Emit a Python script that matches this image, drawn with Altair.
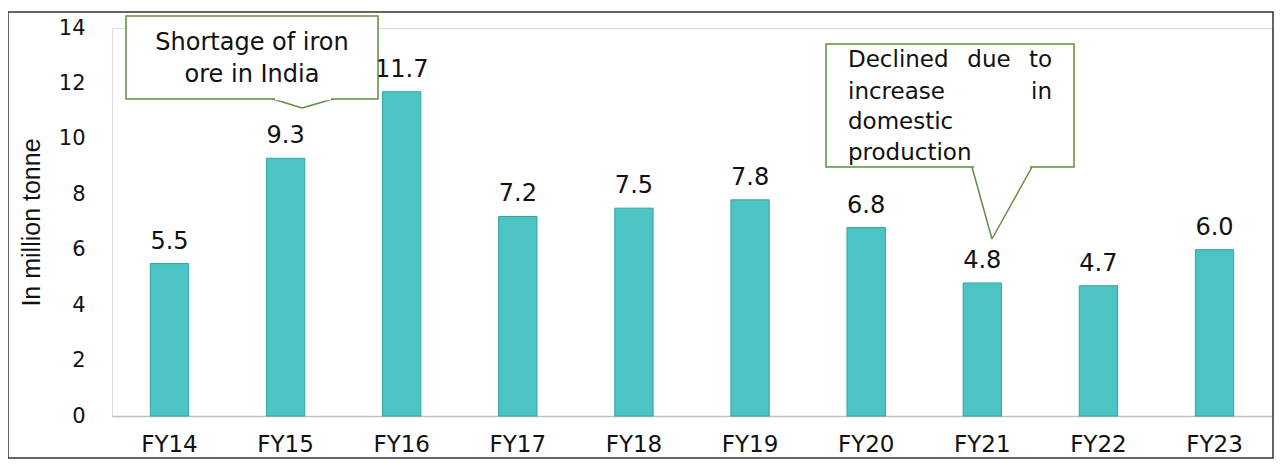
import altair as alt
import pandas as pd

years = ["FY14", "FY15", "FY16", "FY17", "FY18", "FY19", "FY20", "FY21", "FY22", "FY23"]
values = [5.5, 9.3, 11.7, 7.2, 7.5, 7.8, 6.8, 4.8, 4.7, 6.0]
labels = ["5.5", "9.3", "11.7", "7.2", "7.5", "7.8", "6.8", "4.8", "4.7", "6.0"]

callout1_lines = ["Shortage of iron", "ore in India"]
callout2_words = [["Declined", "due", "to"], ["increase", "in"], ["domestic"], ["production"]]

df = pd.DataFrame({"year": years, "value": values, "label": labels})

W, H = 1160, 388
FONT = "DejaVu Sans"
GREEN = "#5E8F3C"

x_enc = alt.X("year:N", sort=years, title=None,
              scale=alt.Scale(paddingInner=0.67, paddingOuter=0.33),
              axis=alt.Axis(labelAngle=0, ticks=False, domainColor="#BFBFBF", domainWidth=1.5,
                            labelFont=FONT, labelFontSize=23, labelColor="#111111",
                            labelPadding=17))
y_enc = alt.Y("value:Q", title="In million tonne",
              scale=alt.Scale(domain=[0, 14]),
              axis=alt.Axis(values=[0, 2, 4, 6, 8, 10, 12, 14], grid=False, ticks=False,
                            domain=False, labelFont=FONT, labelFontSize=21, labelColor="#111111",
                            labelPadding=27, titleFont="Liberation Sans", titleFontSize=25,
                            titleFontWeight="normal", titleColor="#111111", titlePadding=14))

bars = alt.Chart(df).mark_bar(color="#4CC4C4", stroke="#33A3A3", strokeWidth=1).encode(x=x_enc, y=y_enc)
texts = alt.Chart(df).mark_text(dy=-15, baseline="alphabetic", font=FONT, fontSize=24, color="#111111").encode(
    x=alt.X("year:N", sort=years), y="value:Q", text="label:N")

# frame around whole figure
frame = alt.Chart(pd.DataFrame({"a": [0]})).mark_rect(fill=None, stroke="#333333", strokeWidth=1.5).encode(
    x=alt.value(-104), x2=alt.value(1161), y=alt.value(-16), y2=alt.value(430))

# callout 1 (box + pointer)
c1_box = alt.Chart(pd.DataFrame({"a": [0]})).mark_rect(fill="white", stroke=GREEN, strokeWidth=1.5).encode(
    x=alt.value(14), x2=alt.value(266), y=alt.value(-12), y2=alt.value(71))
c1_ptr = pd.DataFrame({"x": [161, 190], "y": [71, 80], "x2": [190, 221], "y2": [80, 71]})
c1_lines = alt.Chart(c1_ptr).mark_rule(color=GREEN, strokeWidth=1.5).encode(
    x=alt.X("x:Q", scale=None), y=alt.Y("y:Q", scale=None),
    x2="x2:Q", y2="y2:Q")
c1_gap = alt.Chart(pd.DataFrame({"a": [0]})).mark_rule(color="white", strokeWidth=2.5).encode(
    x=alt.value(163), x2=alt.value(219), y=alt.value(71), y2=alt.value(71))
c1_text_df = pd.DataFrame({"t": callout1_lines, "x": [140, 140], "y": [15, 47]})
c1_text = alt.Chart(c1_text_df).mark_text(font=FONT, fontSize=24, color="#111111").encode(
    x=alt.X("x:Q", scale=None), y=alt.Y("y:Q", scale=None), text="t:N")

# callout 2
c2_box = alt.Chart(pd.DataFrame({"a": [0]})).mark_rect(fill="white", stroke=GREEN, strokeWidth=1.5).encode(
    x=alt.value(714), x2=alt.value(962), y=alt.value(16), y2=alt.value(139))
c2_ptr = pd.DataFrame({"x": [860, 880], "y": [139, 211], "x2": [880, 920], "y2": [211, 139]})
c2_lines = alt.Chart(c2_ptr).mark_rule(color=GREEN, strokeWidth=1.5).encode(
    x=alt.X("x:Q", scale=None), y=alt.Y("y:Q", scale=None),
    x2="x2:Q", y2="y2:Q")
c2_gap = alt.Chart(pd.DataFrame({"a": [0]})).mark_rule(color="white", strokeWidth=2.5).encode(
    x=alt.value(862), x2=alt.value(918), y=alt.value(139), y2=alt.value(139))

rows = []
line_y = [32, 64, 94, 125]
for i, words in enumerate(callout2_words):
    if len(words) == 3:
        rows.append({"t": words[0], "x": 736, "y": line_y[i], "al": "left"})
        rows.append({"t": words[1], "x": 877, "y": line_y[i], "al": "center"})
        rows.append({"t": words[2], "x": 940, "y": line_y[i], "al": "right"})
    elif len(words) == 2:
        rows.append({"t": words[0], "x": 736, "y": line_y[i], "al": "left"})
        rows.append({"t": words[1], "x": 940, "y": line_y[i], "al": "right"})
    else:
        rows.append({"t": words[0], "x": 736, "y": line_y[i], "al": "left"})
c2_df = pd.DataFrame(rows)
c2_text_parts = []
for al in ["left", "center", "right"]:
    sub = c2_df[c2_df["al"] == al]
    c2_text_parts.append(alt.Chart(sub).mark_text(font=FONT, fontSize=23, color="#111111", align=al).encode(
        x=alt.X("x:Q", scale=None), y=alt.Y("y:Q", scale=None), text="t:N"))

chart = alt.layer(
    frame, bars, texts, c1_lines, c1_box, c1_gap, c1_text, c2_lines, c2_box, c2_gap, *c2_text_parts
).properties(
    width=W, height=H,
    padding={"left": 104, "top": 20, "right": 2, "bottom": 44},
    autosize=alt.AutoSizeParams(type="none"),
).configure_view(stroke=None).configure(background="white")

chart.save("out.html", embed_options={"renderer": "svg", "actions": False})
